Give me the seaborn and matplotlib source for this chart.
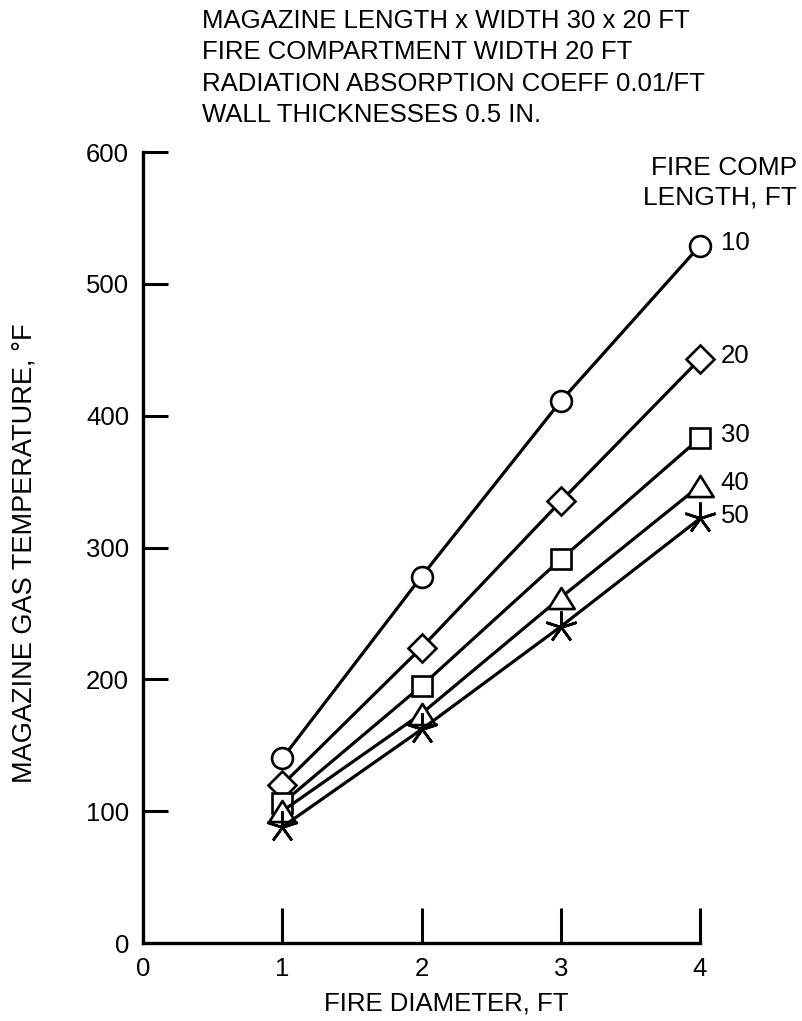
import matplotlib
matplotlib.use("Agg")
import matplotlib.pyplot as plt
import seaborn as sns

# fire diameter, ft
diameter = [1, 2, 3, 4]

# magazine gas temperature, F, one series per fire compartment length
temp_10 = [140, 278, 411, 529]
temp_20 = [120, 224, 335, 443]
temp_30 = [106, 195, 291, 383]
temp_40 = [100, 174, 262, 347]
temp_50 = [88, 162, 240, 322]

comp_lengths = ["10", "20", "30", "40", "50"]
series = [temp_10, temp_20, temp_30, temp_40, temp_50]

# wide, flat triangle like the hand-drawn one
flat_triangle = [(-1, -0.8), (1, -0.8), (0, 0.8), (-1, -0.8)]
markers = ["o", "D", "s", flat_triangle, (5, 2, 0)]
marker_sizes = [15, 14, 15, 19, 23]

title_lines = [
    "MAGAZINE LENGTH x WIDTH 30 x 20 FT",
    "FIRE COMPARTMENT WIDTH 20 FT",
    "RADIATION ABSORPTION COEFF 0.01/FT",
    "WALL THICKNESSES 0.5 IN.",
]

sns.set_style("ticks")
plt.rcParams["font.family"] = ["Liberation Sans", "DejaVu Sans"]
plt.rcParams.update({
    "text.color": "black",
    "axes.labelcolor": "black",
    "xtick.color": "black",
    "ytick.color": "black",
})

W, H = 802, 1021
fig = plt.figure(figsize=(W / 100, H / 100), dpi=100)
ax = fig.add_axes([143 / W, (H - 943) / H, (700 - 143) / W, (943 - 152) / H])

for label, temps, mk, ms in zip(comp_lengths, series, markers, marker_sizes):
    sns.lineplot(
        x=diameter, y=temps, ax=ax, color="black", linewidth=2.3,
        marker=mk, markersize=ms, markerfacecolor="white",
        markeredgecolor="black", markeredgewidth=1.9, clip_on=False,
    )
    ax.annotate(label, xy=(diameter[-1], temps[-1]), xytext=(15, 2),
                textcoords="offset points", ha="left", va="center",
                fontsize=18.5, annotation_clip=False)

ax.set_xlim(0, 4)
ax.set_ylim(0, 600)
ax.set_xticks([0, 1, 2, 3, 4])
ax.set_yticks([0, 100, 200, 300, 400, 500, 600])
ax.tick_params(axis="x", direction="in", length=25, width=2.2, labelsize=18.5, pad=10)
ax.tick_params(axis="y", direction="in", length=18, width=2.2, labelsize=18.5, pad=10)
ax.xaxis.get_major_ticks()[0].tick1line.set_visible(False)
ax.yaxis.get_major_ticks()[0].tick1line.set_visible(False)

sns.despine(ax=ax)
for side in ["left", "bottom"]:
    ax.spines[side].set_linewidth(2.4)
    ax.spines[side].set_color("black")

ax.set_xlabel("FIRE DIAMETER, FT", fontsize=18.5)
ax.set_ylabel("MAGAZINE GAS TEMPERATURE, \u00b0F", fontsize=19.5)
ax.xaxis.set_label_coords((446 - 143) / (700 - 143), -(991 - 943) / (943 - 152))
ax.yaxis.set_label_coords(-(143 - 38) / (700 - 143), (943 - 553) / (943 - 152))

for i, line in enumerate(title_lines):
    fig.text(202 / W, 1 - (21 + 31.3 * i) / H, line, fontsize=18.5,
             ha="left", va="center")

fig.text(797 / W, 1 - 168 / H, "FIRE COMP", fontsize=19, ha="right", va="center")
fig.text(797 / W, 1 - 197 / H, "LENGTH, FT", fontsize=19, ha="right", va="center")

fig.savefig("out.png", dpi=100)
